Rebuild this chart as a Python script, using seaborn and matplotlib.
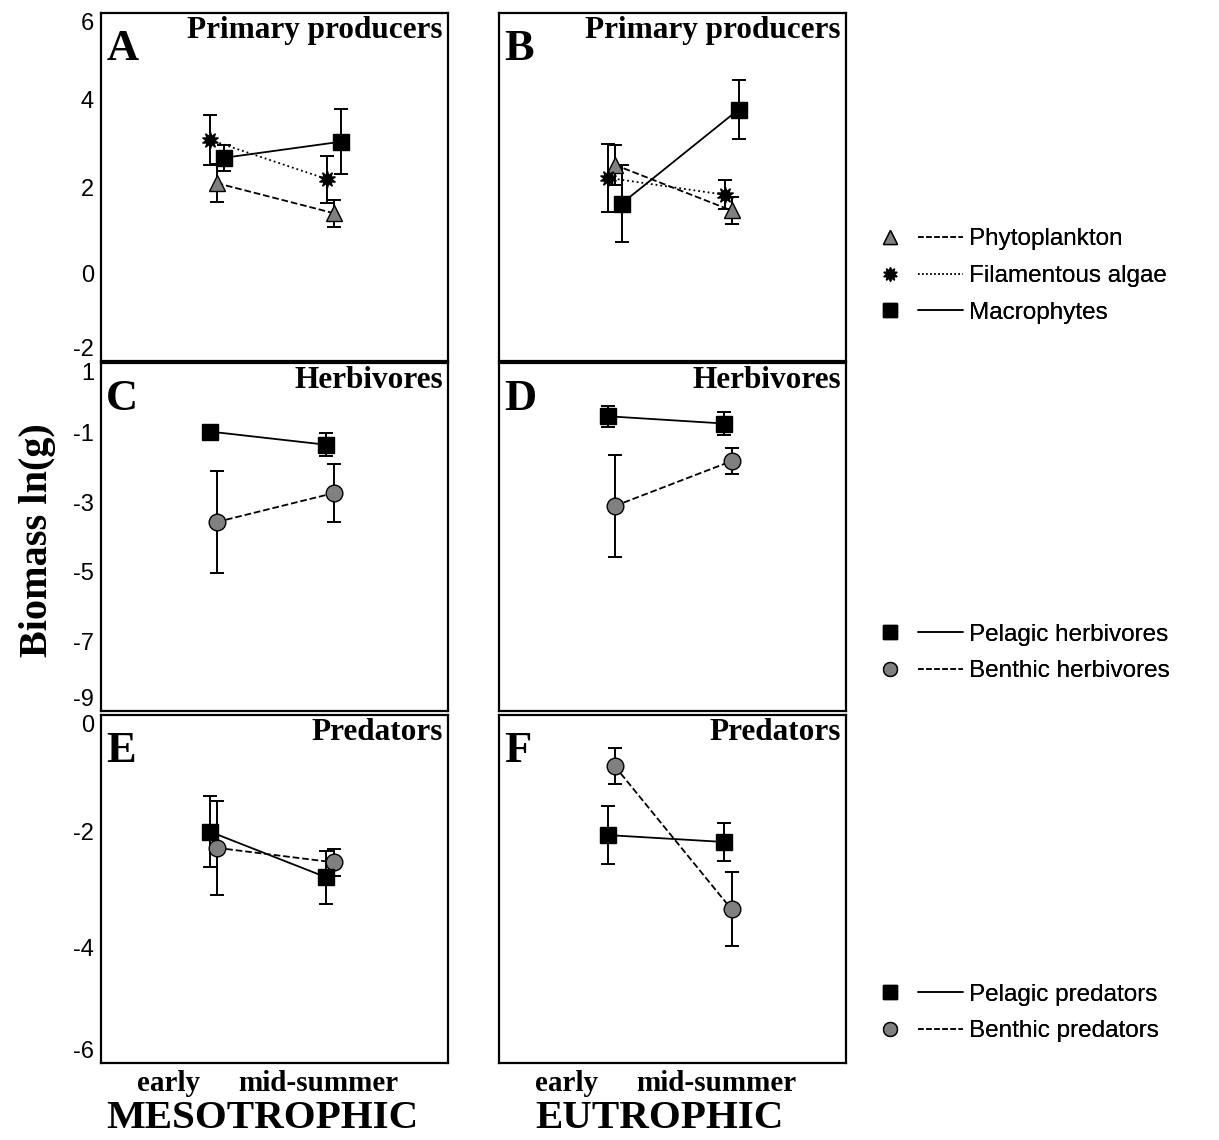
import numpy as np
import pandas as pd
import matplotlib.pyplot as plt
import seaborn as sns
from matplotlib.lines import Line2D
from matplotlib.legend_handler import HandlerTuple

# -----------------------------------
# Data (ln biomass, mean and error)
# -----------------------------------
seasons = ["early", "mid-summer"]

# A - mesotrophic, primary producers
phyto_meso = [2.09, 1.40]
phyto_meso_err = [0.43, 0.31]
filam_meso = [3.08, 2.18]
filam_meso_err = [0.57, 0.54]
macro_meso = [2.67, 3.04]
macro_meso_err = [0.30, 0.75]

# B - eutrophic, primary producers
phyto_eu = [2.51, 1.46]
phyto_eu_err = [0.46, 0.32]
filam_eu = [2.21, 1.82]
filam_eu_err = [0.79, 0.33]
macro_eu = [1.62, 3.78]
macro_eu_err = [0.89, 0.68]

# C - mesotrophic, herbivores
pel_herb_meso = [-0.97, -1.35]
pel_herb_meso_err = [0.08, 0.33]
ben_herb_meso = [-3.57, -2.74]
ben_herb_meso_err = [1.46, 0.84]

# D - eutrophic, herbivores
pel_herb_eu = [-0.53, -0.74]
pel_herb_eu_err = [0.30, 0.33]
ben_herb_eu = [-3.11, -1.82]
ben_herb_eu_err = [1.46, 0.38]

# E - mesotrophic, predators
pel_pred_meso = [-2.01, -2.80]
pel_pred_meso_err = [0.61, 0.45]
ben_pred_meso = [-2.29, -2.54]
ben_pred_meso_err = [0.81, 0.23]

# F - eutrophic, predators
pel_pred_eu = [-2.07, -2.19]
pel_pred_eu_err = [0.50, 0.32]
ben_pred_eu = [-0.88, -3.35]
ben_pred_eu_err = [0.31, 0.64]

# -----------------------------------
# Styles
# -----------------------------------
GREY = "#808080"
styles = {
    "Phytoplankton": dict(marker="^", mfc=GREY, ls="--", ms=12, dx=0.0),
    "Filamentous algae": dict(marker=(10, 1, 0), mfc="black", ls=":", ms=12, dx=-0.055),
    "Macrophytes": dict(marker="s", mfc="black", ls="-", ms=12, dx=0.06),
    "Pelagic herbivores": dict(marker="s", mfc="black", ls="-", ms=12, dx=-0.06),
    "Benthic herbivores": dict(marker="o", mfc=GREY, ls="--", ms=12, dx=0.0),
    "Pelagic predators": dict(marker="s", mfc="black", ls="-", ms=12, dx=-0.06),
    "Benthic predators": dict(marker="o", mfc=GREY, ls="--", ms=12, dx=0.0),
}

panels = [
    ("A", "Primary producers", [("Phytoplankton", phyto_meso, phyto_meso_err),
                                ("Filamentous algae", filam_meso, filam_meso_err),
                                ("Macrophytes", macro_meso, macro_meso_err)]),
    ("B", "Primary producers", [("Phytoplankton", phyto_eu, phyto_eu_err),
                                ("Filamentous algae", filam_eu, filam_eu_err),
                                ("Macrophytes", macro_eu, macro_eu_err)]),
    ("C", "Herbivores", [("Benthic herbivores", ben_herb_meso, ben_herb_meso_err),
                         ("Pelagic herbivores", pel_herb_meso, pel_herb_meso_err)]),
    ("D", "Herbivores", [("Benthic herbivores", ben_herb_eu, ben_herb_eu_err),
                         ("Pelagic herbivores", pel_herb_eu, pel_herb_eu_err)]),
    ("E", "Predators", [("Benthic predators", ben_pred_meso, ben_pred_meso_err),
                        ("Pelagic predators", pel_pred_meso, pel_pred_meso_err)]),
    ("F", "Predators", [("Benthic predators", ben_pred_eu, ben_pred_eu_err),
                        ("Pelagic predators", pel_pred_eu, pel_pred_eu_err)]),
]

row_ylim = [(-2, 6), (-9, 1), (-6, 0)]
row_ticks = [[-2, 0, 2, 4, 6], [-9, -7, -5, -3, -1, 1], [-6, -4, -2, 0]]

sns.set_style("white")
plt.rcParams["font.family"] = ["Liberation Serif", "DejaVu Serif"]
plt.rcParams["axes.unicode_minus"] = False
for k in ["text.color", "axes.labelcolor", "xtick.color", "ytick.color"]:
    plt.rcParams[k] = "black"

W, H = 1219, 1140
fig = plt.figure(figsize=(W / 100, H / 100), dpi=100)

col_x = [101, 499]
col_w = 347
row_top = [13, 363, 715]
row_h = 348

for i, (letter, title, series) in enumerate(panels):
    r, c = divmod(i, 2)
    ax = fig.add_axes([col_x[c] / W, 1 - (row_top[r] + row_h) / H, col_w / W, row_h / H])

    for name, vals, errs in series:
        st = styles[name]
        x = np.arange(len(seasons)) + st["dx"]
        ax.errorbar(x, vals, yerr=errs, fmt="none", ecolor="black",
                    elinewidth=1.4, capsize=5, capthick=1.4, zorder=2)
        df = pd.DataFrame({"x": x, "y": vals})
        sns.lineplot(data=df, x="x", y="y", ax=ax, color="black", linestyle=st["ls"],
                     linewidth=1.3, marker=st["marker"], markersize=st["ms"],
                     markerfacecolor=st["mfc"], markeredgecolor="black",
                     markeredgewidth=1.0, estimator=None, sort=False,
                     legend=False, zorder=3)

    ax.set_xlim(-0.99, 1.98)
    ax.set_ylim(*row_ylim[r])
    ax.set_yticks(row_ticks[r])
    ax.set_xlabel("")
    ax.set_ylabel("")
    for sp in ax.spines.values():
        sp.set_color("black")
        sp.set_linewidth(1.6)

    if c == 0:
        ax.tick_params(axis="y", direction="in", length=8, width=1.4, pad=5,
                       labelsize=17, labelfontfamily="Liberation Sans")
        labels = ax.get_yticklabels()
        labels[0].set_verticalalignment("bottom")
        labels[-1].set_verticalalignment("top")
    else:
        ax.tick_params(axis="y", length=0, labelleft=False)

    if r == 2:
        ax.set_xticks([-0.41, 0.87])
        ax.set_xticklabels(seasons, fontsize=21, fontweight="bold")
        ax.tick_params(axis="x", length=0, pad=5)
    else:
        ax.set_xticks([])

    ax.text(0.015, 0.955, letter, transform=ax.transAxes, ha="left", va="top",
            fontsize=32, fontweight="bold")
    ax.text(0.985, 0.992, title, transform=ax.transAxes, ha="right", va="top",
            fontsize=22.5, fontweight="bold")

fig.text(38 / W, 1 - 540 / H, "Biomass ln(g)", rotation=90, ha="center", va="center",
         fontsize=29, fontweight="bold")
fig.text(262 / W, 1 - 1118 / H, "MESOTROPHIC", ha="center", va="center",
         fontsize=29.5, fontweight="bold")
fig.text(660 / W, 1 - 1118 / H, "EUTROPHIC", ha="center", va="center",
         fontsize=29.5, fontweight="bold")


# -----------------------------------
# Legends
# -----------------------------------
def legend_handle(name):
    st = styles[name]
    mark = Line2D([], [], marker=st["marker"], ls="none", markerfacecolor=st["mfc"],
                  markeredgecolor="black", markersize=10)
    line = Line2D([], [], color="black", ls=st["ls"], lw=1.1)
    return (mark, line)


legend_groups = [
    (["Phytoplankton", "Filamentous algae", "Macrophytes"], 276),
    (["Pelagic herbivores", "Benthic herbivores"], 653),
    (["Pelagic predators", "Benthic predators"], 1013),
]

for names, yc in legend_groups:
    leg = fig.legend([legend_handle(n) for n in names], names,
                     handler_map={tuple: HandlerTuple(ndivide=None, pad=0.2)},
                     loc="center left", bbox_to_anchor=(858 / W, 1 - yc / H),
                     frameon=False, handlelength=3.9, handletextpad=0.25,
                     labelspacing=0.6, borderaxespad=0,
                     prop={"family": "Liberation Sans", "size": 17.5})
    fig.add_artist(leg)

fig.savefig("out.png", dpi=100)
